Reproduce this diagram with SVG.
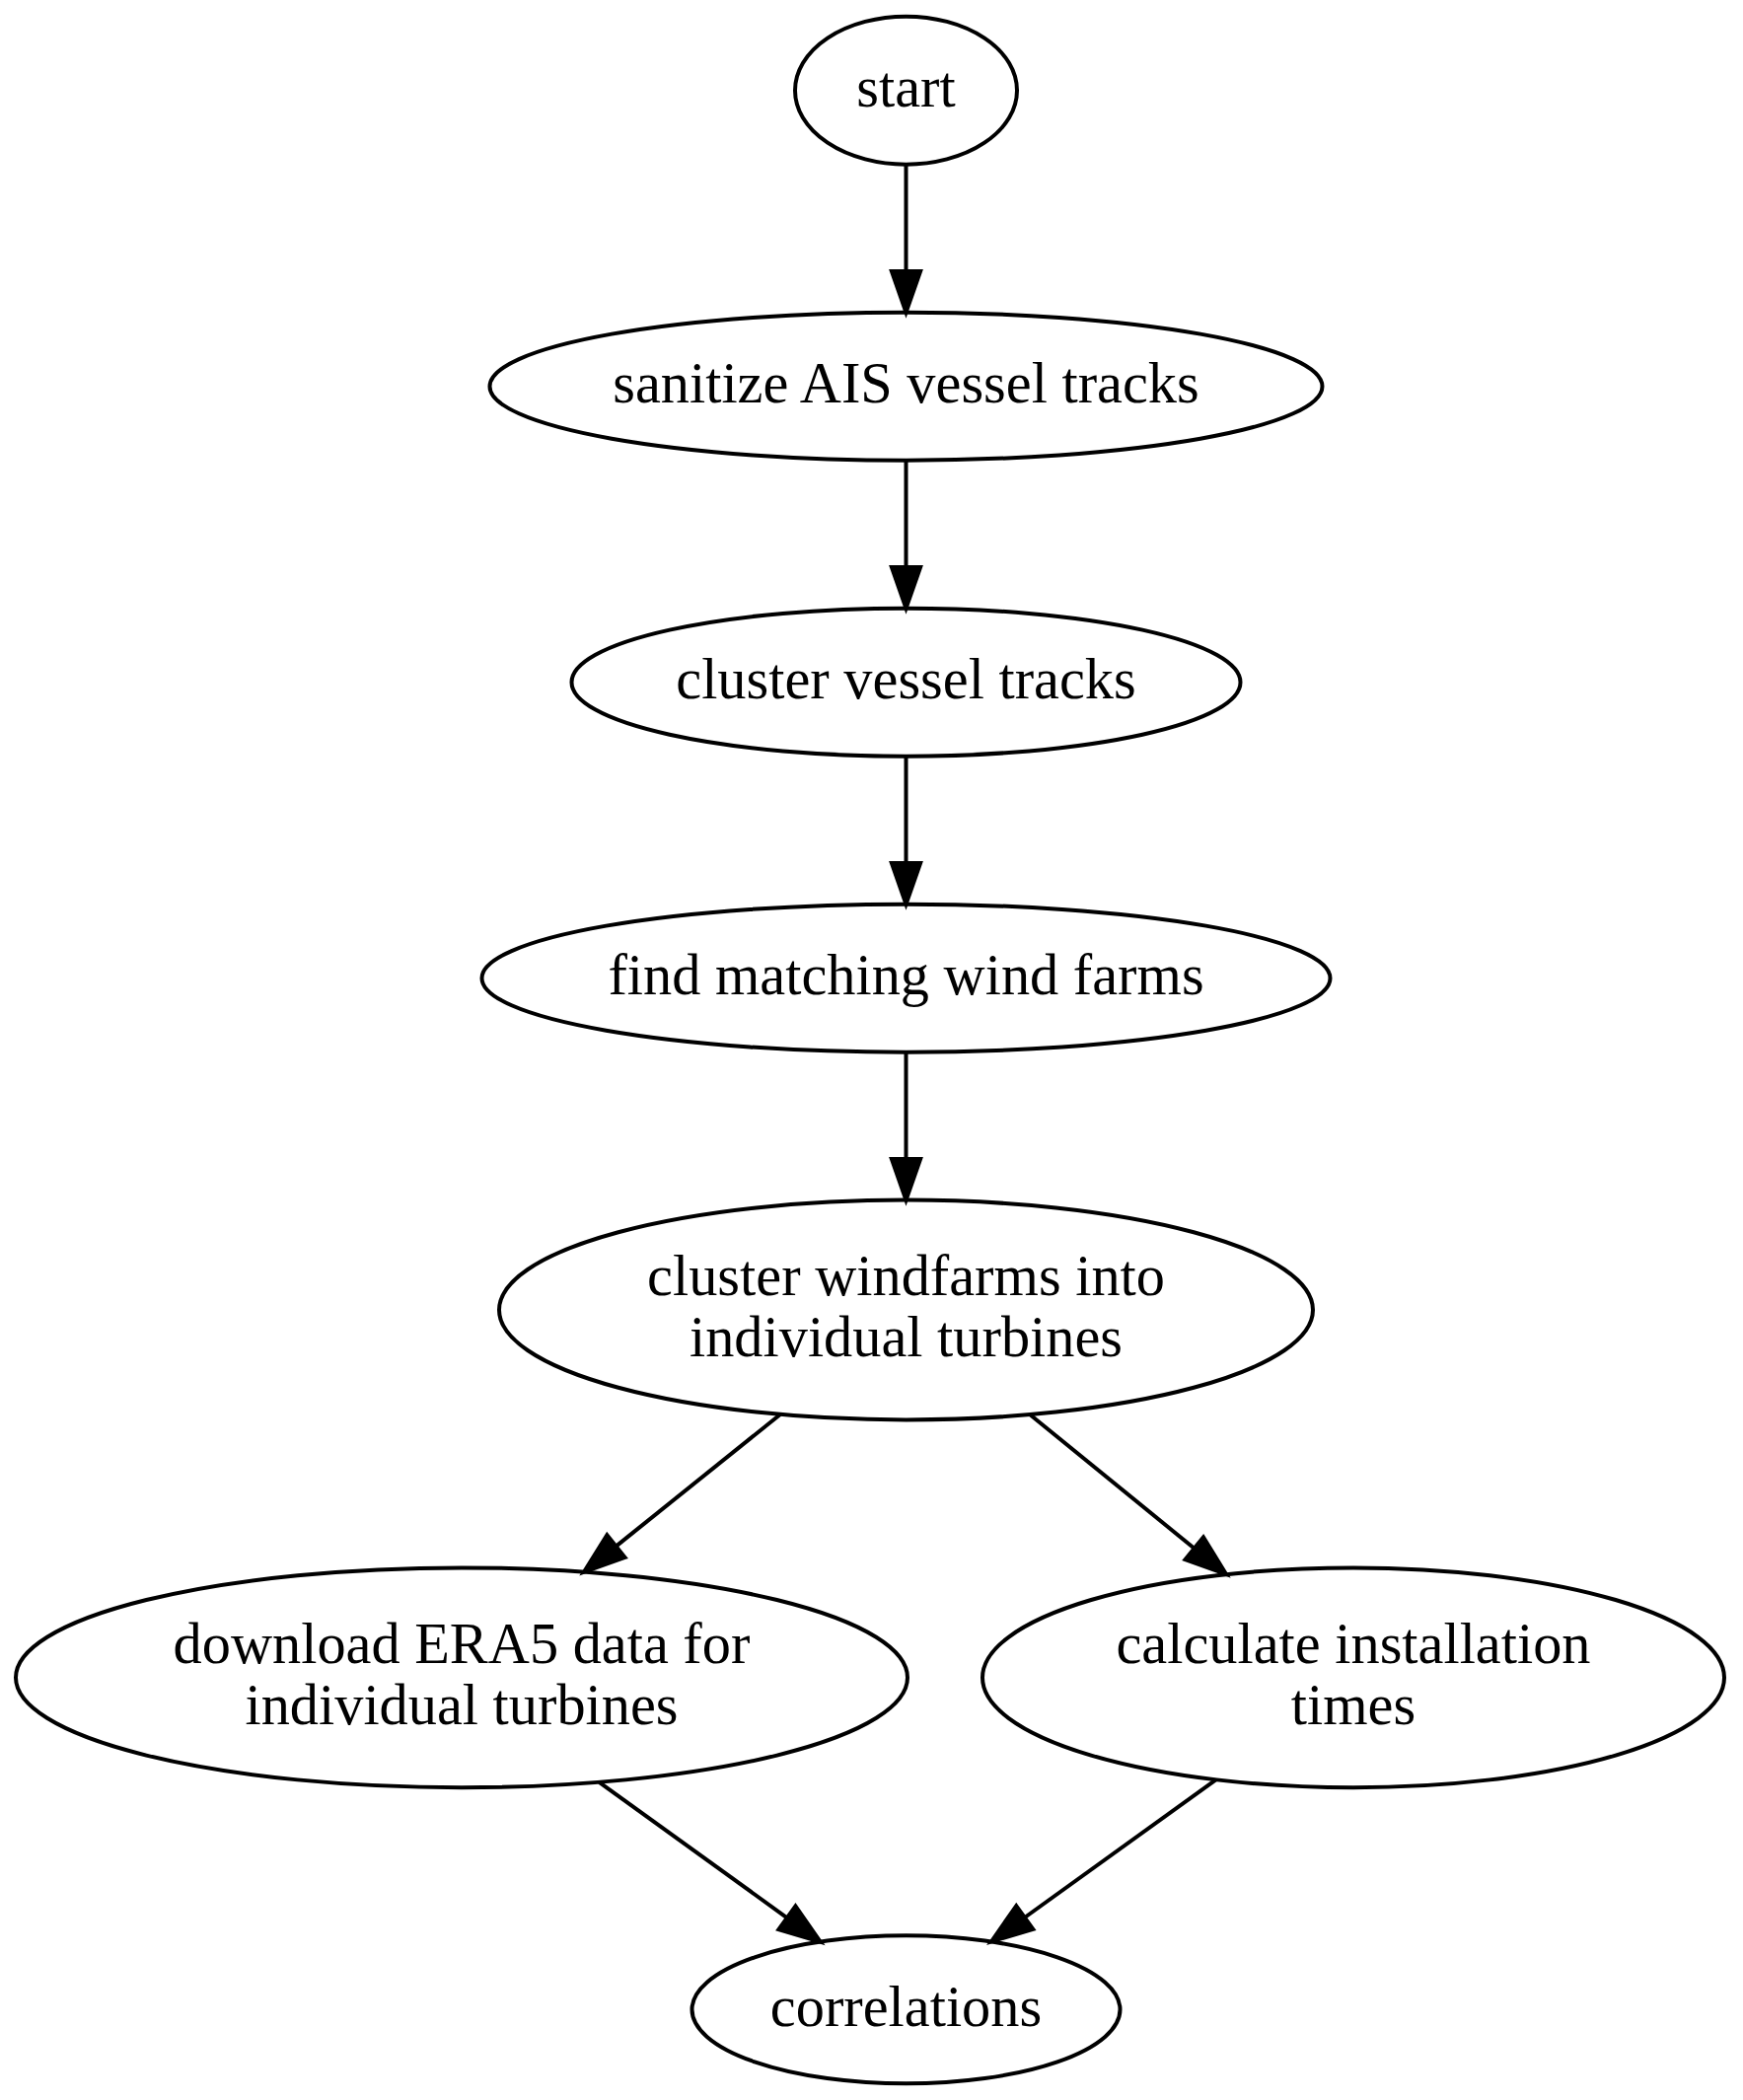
<svg xmlns="http://www.w3.org/2000/svg" width="1767" height="2129" viewBox="0 0 1767 2129">
<style>
.node ellipse{fill:none;stroke:#000;stroke-width:4}
.node text{font-family:"Liberation Serif","Times New Roman",serif;font-size:58.33px;text-anchor:middle;fill:#000}
.edge{fill:none;stroke:#000;stroke-width:4}
</style>
<defs>
<marker id="arr" markerUnits="userSpaceOnUse" viewBox="-4 -20 52 40" markerWidth="52" markerHeight="40" refX="0" refY="0" orient="auto">
<path d="M0,-14.58 L41.67,0 L0,14.58 Z" fill="#000" stroke="#000" stroke-width="4"/>
</marker>
</defs>
<rect width="1767" height="2129" fill="#fff"/>
<g id="edges">
<path class="edge" d="M918.5,166.67 L918.5,275" marker-end="url(#arr)"/>
<path class="edge" d="M918.5,466.67 L918.5,575" marker-end="url(#arr)"/>
<path class="edge" d="M918.5,766.67 L918.5,875" marker-end="url(#arr)"/>
<path class="edge" d="M918.5,1066.67 L918.5,1175" marker-end="url(#arr)"/>
<path class="edge" d="M791,1434 L624.5,1567.6" marker-end="url(#arr)"/>
<path class="edge" d="M1044,1434 L1210.7,1569.7" marker-end="url(#arr)"/>
<path class="edge" d="M607.5,1806.8 L797.9,1944.3" marker-end="url(#arr)"/>
<path class="edge" d="M1232.6,1804.3 L1038.8,1944" marker-end="url(#arr)"/>
</g>
<g id="start" class="node">
<ellipse cx="918.5" cy="91.67" rx="112.5" ry="75"/>
<text x="918.5" y="108">start</text>
</g>
<g id="sanitize" class="node">
<ellipse cx="918.5" cy="391.67" rx="422" ry="75"/>
<text x="918.5" y="408">sanitize AIS vessel tracks</text>
</g>
<g id="cluster_tracks" class="node">
<ellipse cx="918.5" cy="691.67" rx="339" ry="75"/>
<text x="918.5" y="708">cluster vessel tracks</text>
</g>
<g id="find_farms" class="node">
<ellipse cx="918.5" cy="991.67" rx="430" ry="75"/>
<text x="918.5" y="1008">find matching wind farms</text>
</g>
<g id="cluster_turbines" class="node">
<ellipse cx="918.5" cy="1328" rx="412.5" ry="111.4"/>
<text x="918.5" y="1313">cluster windfarms into</text>
<text x="918.5" y="1374.5">individual turbines</text>
</g>
<g id="download" class="node">
<ellipse cx="468" cy="1700.8" rx="452" ry="111.4"/>
<text x="468" y="1686">download ERA5 data for</text>
<text x="468" y="1747.5">individual turbines</text>
</g>
<g id="calc_times" class="node">
<ellipse cx="1372" cy="1700.8" rx="376" ry="111.4"/>
<text x="1372" y="1686">calculate installation</text>
<text x="1372" y="1747.5">times</text>
</g>
<g id="correlations" class="node">
<ellipse cx="918.5" cy="2037.3" rx="217" ry="75"/>
<text x="918.5" y="2054">correlations</text>
</g>
</svg>
